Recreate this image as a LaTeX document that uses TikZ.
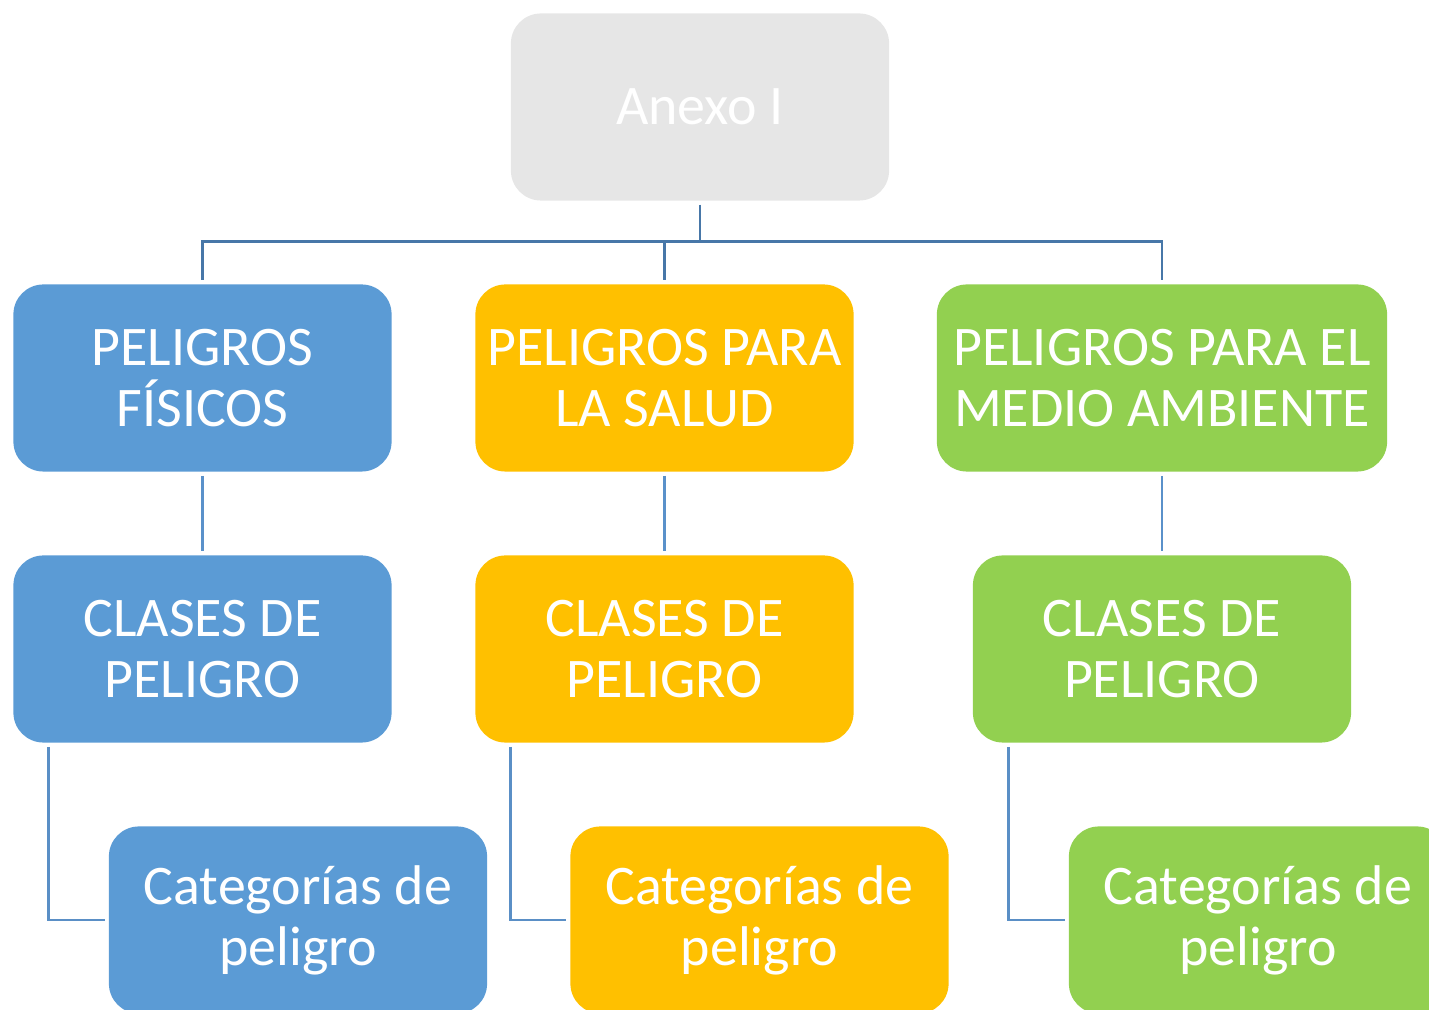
\documentclass[tikz,border=0pt]{standalone}
\usepackage{fontspec}
\setmainfont{Carlito}
\definecolor{cblue}{HTML}{5B9BD5}
\definecolor{corange}{HTML}{FFC000}
\definecolor{cgreen}{HTML}{92D050}
\definecolor{cgray}{HTML}{E6E6E6}
\definecolor{cbus}{HTML}{4777A8}
\definecolor{cmid}{HTML}{5A91CA}
\definecolor{clow}{HTML}{5A8FC6}
\tikzset{
  box/.style={rounded corners=0.3cm, minimum width=3.78cm, minimum height=1.87cm,
    inner sep=0pt, align=center, text=white,
    font=\fontsize{15.9}{17.4}\selectfont},
  wide/.style={minimum width=4.50cm},
  busline/.style={draw=cbus, line width=0.85pt},
  midline/.style={draw=cmid, line width=0.75pt},
  lowline/.style={draw=clow, line width=0.8pt},
}
\begin{document}
\begin{tikzpicture}[x=0.01cm,y=-0.01cm]
\useasboundingbox (0,0) rectangle (1429,1010);
\clip (0,0) rectangle (1429,1010);
% boxes
\node[box, fill=cgray] (anexo) at (700,107) {Anexo I};
\node[box, fill=cblue] (b1) at (202.5,378) {PELIGROS\\FÍSICOS};
\node[box, fill=corange] (o1) at (664.5,378) {PELIGROS PARA\\LA SALUD};
\node[box, wide, fill=cgreen] (g1) at (1162,378) {PELIGROS PARA EL\\MEDIO AMBIENTE};
\node[box, fill=cblue] (b2) at (202.5,649) {CLASES DE\\PELIGRO};
\node[box, fill=corange] (o2) at (664.5,649) {CLASES DE\\PELIGRO};
\node[box, fill=cgreen] (g2) at (1162,649) {CLASES DE\\PELIGRO};
\node[box, fill=cblue] (b3) at (298,920) {Categorías de\\peligro};
\node[box, fill=corange] (o3) at (759.5,920) {Categorías de\\peligro};
\node[box, fill=cgreen] (g3) at (1258,920) {Categorías de\\peligro};
\coordinate (bus) at (0,242);
% top bus
\draw[busline] ([yshift=-0.035cm]anexo.south) -- (anexo.south |- bus);
\draw[busline] ([yshift=0.04cm]b1.north) -- (b1.north |- bus) -- (g1.north |- bus) -- ([yshift=0.04cm]g1.north);
\draw[busline] ([yshift=0.04cm]o1.north) -- (o1.north |- bus);
% row 1 to row 2
\draw[midline] ([yshift=-0.035cm]b1.south) -- ([yshift=0.04cm]b2.north);
\draw[midline] ([yshift=-0.035cm]o1.south) -- ([yshift=0.04cm]o2.north);
\draw[midline] ([yshift=-0.035cm]g1.south) -- ([yshift=0.04cm]g2.north);
% row 2 to row 3
\draw[lowline] ([xshift=0.36cm,yshift=-0.035cm]b2.south west) |- ([xshift=-0.035cm]b3.west);
\draw[lowline] ([xshift=0.36cm,yshift=-0.035cm]o2.south west) |- ([xshift=-0.035cm]o3.west);
\draw[lowline] ([xshift=0.36cm,yshift=-0.035cm]g2.south west) |- ([xshift=-0.035cm]g3.west);
\end{tikzpicture}
\end{document}
